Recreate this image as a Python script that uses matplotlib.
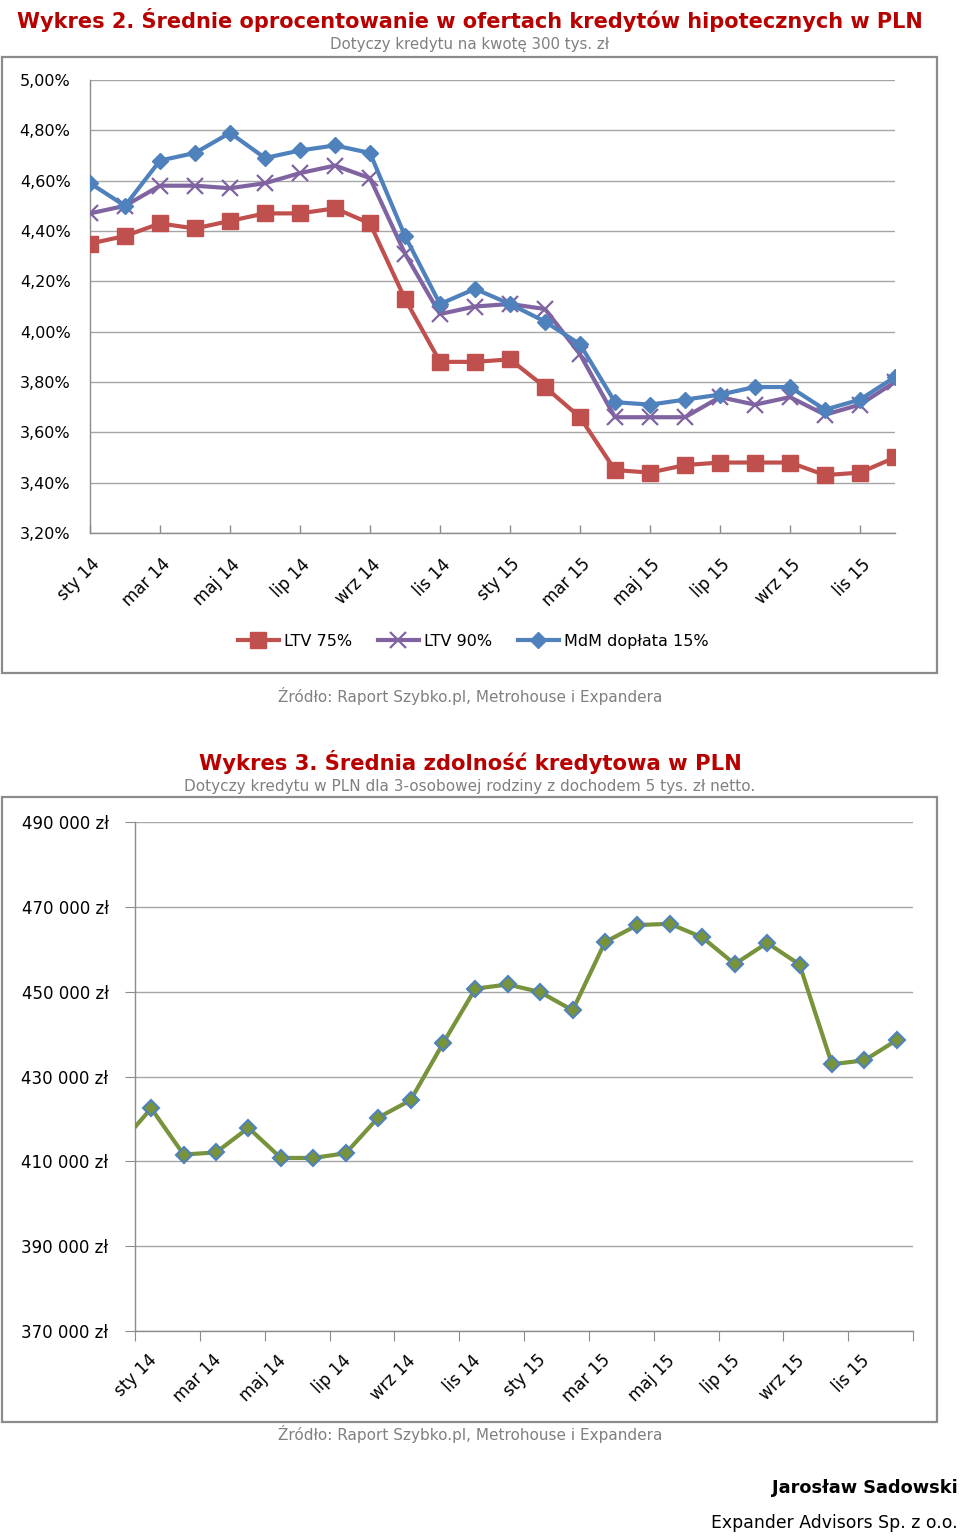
import matplotlib
matplotlib.use("Agg")
import numpy as np
import matplotlib.pyplot as plt
from matplotlib.patches import Rectangle
from matplotlib.transforms import ScaledTranslation
from matplotlib.ticker import FuncFormatter, MultipleLocator, FixedLocator

plt.rcParams['font.family'] = ['DejaVu Sans']

# ---------------- data ----------------
months = ["sty 14", "lut 14", "mar 14", "kwi 14", "maj 14", "cze 14",
          "lip 14", "sie 14", "wrz 14", "paź 14", "lis 14", "gru 14",
          "sty 15", "lut 15", "mar 15", "kwi 15", "maj 15", "cze 15",
          "lip 15", "sie 15", "wrz 15", "paź 15", "lis 15", "gru 15"]

ltv75 = [4.35, 4.38, 4.43, 4.41, 4.44, 4.47, 4.47, 4.49, 4.43, 4.13, 3.88, 3.88,
         3.89, 3.78, 3.66, 3.45, 3.44, 3.47, 3.48, 3.48, 3.48, 3.43, 3.44, 3.50]
ltv90 = [4.47, 4.50, 4.58, 4.58, 4.57, 4.59, 4.63, 4.66, 4.61, 4.31, 4.07, 4.10,
         4.11, 4.09, 3.91, 3.66, 3.66, 3.66, 3.74, 3.71, 3.74, 3.67, 3.71, 3.80]
mdm = [4.59, 4.50, 4.68, 4.71, 4.79, 4.69, 4.72, 4.74, 4.71, 4.38, 4.11, 4.17,
       4.11, 4.04, 3.95, 3.72, 3.71, 3.73, 3.75, 3.78, 3.78, 3.69, 3.73, 3.82]

cap_months = ["gru 13"] + months
capacity = [413700, 422500, 411600, 412100, 417900, 410800, 410800, 411900,
            420300, 424400, 437800, 450700, 451700, 449900, 445600, 461700,
            465700, 466000, 462800, 456500, 461500, 456400, 432900, 433800, 438600]
cap_ticks = [370000, 390000, 410000, 430000, 450000, 470000, 490000]

title1 = "Wykres 2. Średnie oprocentowanie w ofertach kredytów hipotecznych w PLN"
subtitle1 = "Dotyczy kredytu na kwotę 300 tys. zł"
title2 = "Wykres 3. Średnia zdolność kredytowa w PLN"
subtitle2 = "Dotyczy kredytu w PLN dla 3-osobowej rodziny z dochodem 5 tys. zł netto."
source = "Źródło: Raport Szybko.pl, Metrohouse i Expandera"
author = "Jarosław Sadowski"
company = "Expander Advisors Sp. z o.o."

# ---------------- figure ----------------
W, H, DPI = 960, 1538, 100
fig = plt.figure(figsize=(W / DPI, H / DPI), dpi=DPI)
fig.patch.set_facecolor("white")

RED_T = "#B80000"
GRAY_T = "#808080"
GRID = "#A6A6A6"
AXC = "#8C8C8C"


def rect(l, t, r, b):
    return [l / W, 1 - b / H, (r - l) / W, (b - t) / H]


def fy(y):
    return 1 - y / H


def box(l, t, r, b):
    fig.add_artist(Rectangle((l / W, 1 - b / H), (r - l) / W, (b - t) / H,
                             transform=fig.transFigure, fill=False,
                             ec=AXC, lw=1.6))


# texts
fig.text(470 / W, fy(20), title1, ha="center", va="center", color=RED_T,
         fontsize=15, fontweight="bold")
fig.text(470 / W, fy(45), subtitle1, ha="center", va="center", color=GRAY_T,
         fontsize=10.8)
fig.text(470 / W, fy(696), source, ha="center", va="center", color=GRAY_T,
         fontsize=11)
fig.text(470 / W, fy(762), title2, ha="center", va="center", color=RED_T,
         fontsize=15.2, fontweight="bold")
fig.text(470 / W, fy(786), subtitle2, ha="center", va="center", color=GRAY_T,
         fontsize=11)
fig.text(470 / W, fy(1434), source, ha="center", va="center", color=GRAY_T,
         fontsize=11)
fig.text(958 / W, fy(1488), author, ha="right", va="center", color="black",
         fontsize=12.8, fontweight="bold")
fig.text(958 / W, fy(1523), company, ha="right", va="center", color="black",
         fontsize=12.4)

box(2, 57, 937, 673)
box(2, 797, 937, 1422)


def style_axes(ax):
    for s in ("top", "right"):
        ax.spines[s].set_visible(False)
    for s in ("left", "bottom"):
        ax.spines[s].set_color(AXC)
        ax.spines[s].set_linewidth(1.0)
    ax.set_facecolor("white")
    ax.grid(axis="y", color=GRID, lw=1.0)
    ax.set_axisbelow(True)


def offset_labels(ax, dx_px, dy_px):
    off = ScaledTranslation(dx_px / DPI, -dy_px / DPI, fig.dpi_scale_trans)
    for lbl in ax.get_xticklabels(which="both"):
        lbl.set_transform(lbl.get_transform() + off)


# ---------------- chart 1 ----------------
ax1 = fig.add_axes(rect(90, 80, 895, 533))
style_axes(ax1)
x1 = np.arange(len(months))
ax1.plot(x1, ltv75, color="#C0504D", lw=3, marker="s", ms=12,
         mfc="#C0504D", mec="#C0504D", label="LTV 75%", zorder=3)
ax1.plot(x1, ltv90, color="#8064A2", lw=3, marker="x", ms=11, mew=1.6,
         label="LTV 90%", zorder=4)
ax1.plot(x1, mdm, color="#4F81BD", lw=3, marker="D", ms=8.5,
         mfc="#4F81BD", mec="#4F81BD", label="MdM dopłata 15%", zorder=5)
ax1.set_xlim(0, len(months) - 1)
ax1.set_ylim(3.2, 5.0)
ax1.yaxis.set_major_locator(MultipleLocator(0.2))
ax1.yaxis.set_major_formatter(FuncFormatter(lambda v, p: f"{v:.2f}%".replace(".", ",")))
ax1.tick_params(axis="y", length=0, pad=14, labelsize=11.5, labelcolor="black")
ax1.set_xticks(x1[::2])
ax1.set_xticklabels(months[::2], rotation=45, ha="right", va="top",
                    rotation_mode="anchor")
ax1.tick_params(axis="x", direction="in", length=6, color=AXC, width=1.0,
                labelsize=12, pad=6)
offset_labels(ax1, 1, 14)

leg = ax1.legend(loc="center", bbox_to_anchor=(473 / W, fy(641)),
                 bbox_transform=fig.transFigure, ncol=3, frameon=False,
                 fontsize=11.5, handlelength=2.6, handletextpad=0.3,
                 columnspacing=1.6)

# ---------------- chart 2 ----------------
ax2 = fig.add_axes(rect(135, 822, 913, 1331))
style_axes(ax2)
x2 = np.arange(len(capacity)) - 0.5
ax2.plot(x2, capacity, color="#77933C", lw=3, marker="D", ms=8.5,
         mfc="#77933C", mec="#4F81BD", mew=1.5, zorder=3)
ax2.set_xlim(0, 24)
ax2.set_ylim(cap_ticks[0], cap_ticks[-1])
ax2.yaxis.set_major_locator(FixedLocator(cap_ticks))
ax2.yaxis.set_major_formatter(FuncFormatter(lambda v, p: f"{int(round(v)):,} zł".replace(",", " ")))
ax2.tick_params(axis="y", direction="out", length=7, color=AXC, pad=12,
                labelsize=12, labelcolor="black")
ax2.xaxis.set_major_locator(FixedLocator(np.arange(0, 25, 2)))
ax2.xaxis.set_major_formatter(FuncFormatter(lambda v, p: ""))
lab_pos = x2[1::2]
ax2.set_xticks(lab_pos, minor=True)
ax2.set_xticklabels(cap_months[1::2], minor=True, rotation=45, ha="right",
                    va="top", rotation_mode="anchor")
ax2.tick_params(axis="x", which="major", direction="out", length=7, color=AXC)
ax2.tick_params(axis="x", which="minor", length=0, labelsize=12, pad=6)
offset_labels(ax2, -4, 12)

fig.savefig("out.png", dpi=DPI, facecolor="white")
